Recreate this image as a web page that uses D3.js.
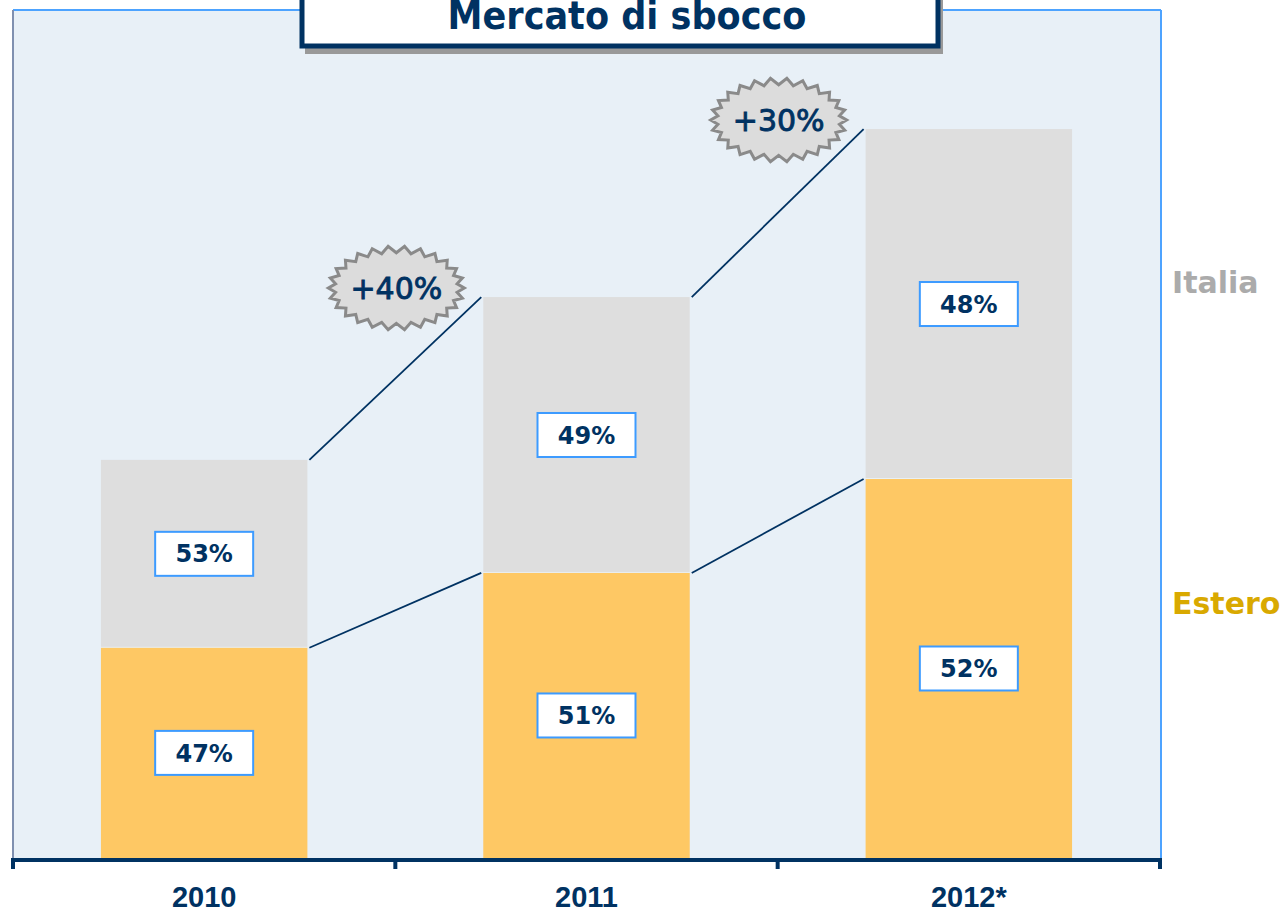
<!DOCTYPE html>
<meta charset="utf-8">
<style>
    body {
        margin: 0;
        background: #fff;
    }

    text {
        font-family: "DejaVu Sans", sans-serif;
    }
</style>

<body>
    <script src="https://d3js.org/d3.v7.min.js"></script>
    <script>

        // dati (2010 = 100)
        var years = ["2010", "2011", "2012*"];
        var estero = [52.8, 71.6, 95.2];
        var italia = [47.2, 69.3, 87.9];
        var esteroLabels = ["47%", "51%", "52%"];
        var italiaLabels = ["53%", "49%", "48%"];
        var growth = ["+40%", "+30%"];

        var width = 1286, height = 913;
        var plot = { left: 13, right: 1160, top: 10, bottom: 858 };

        var navy = "#003262";

        var svg = d3.select("body").append("svg")
            .attr("width", width)
            .attr("height", height);

        var x = d3.scaleBand()
            .domain(years)
            .range([plot.left, plot.right])
            .paddingInner(0.46)
            .paddingOuter(0.23);

        var y = d3.scaleLinear()
            .domain([0, 213])
            .range([plot.bottom, plot.top]);

        var data = years.map(function (d, i) {
            return { year: d, estero: estero[i], italia: italia[i], total: estero[i] + italia[i] };
        });

        // sfondo area grafico
        svg.append("rect")
            .attr("x", plot.left)
            .attr("y", plot.top)
            .attr("width", plot.right - plot.left)
            .attr("height", plot.bottom - plot.top)
            .style("fill", "#e8f0f7");

        svg.append("line")
            .attr("x1", plot.left).attr("x2", plot.right + 1)
            .attr("y1", plot.top).attr("y2", plot.top)
            .style("stroke", "#4da3ff").style("stroke-width", 2);
        svg.append("line")
            .attr("x1", plot.right + 1).attr("x2", plot.right + 1)
            .attr("y1", plot.top).attr("y2", plot.bottom)
            .style("stroke", "#4da3ff").style("stroke-width", 2);
        svg.append("line")
            .attr("x1", plot.left).attr("x2", plot.left)
            .attr("y1", plot.top).attr("y2", plot.bottom)
            .style("stroke", "#8090b0").style("stroke-width", 2);

        // barre
        var bars = svg.selectAll(".bar")
            .data(data)
            .enter().append("g")
            .attr("class", "bar");

        bars.append("rect")
            .attr("x", d => x(d.year))
            .attr("width", x.bandwidth())
            .attr("y", d => y(d.estero))
            .attr("height", d => y(0) - y(d.estero))
            .style("fill", "#fec864");

        bars.append("rect")
            .attr("x", d => x(d.year))
            .attr("width", x.bandwidth())
            .attr("y", d => y(d.total))
            .attr("height", d => y(d.estero) - y(d.total) - 1)
            .style("fill", "#dedede");

        // linee di collegamento
        var pairs = d3.pairs(data);
        ["total", "estero"].forEach(function (key) {
            svg.selectAll(".conn-" + key)
                .data(pairs)
                .enter().append("line")
                .attr("x1", p => x(p[0].year) + x.bandwidth() + 2)
                .attr("y1", p => y(p[0][key]))
                .attr("x2", p => x(p[1].year) - 2)
                .attr("y2", p => y(p[1][key]))
                .style("stroke", navy)
                .style("stroke-width", 1.8);
        });

        // etichette percentuali
        function labelBox(sel, cy, text) {
            sel.append("rect")
                .attr("x", d => x(d.year) + x.bandwidth() / 2 - 49)
                .attr("y", d => cy(d) - 22)
                .attr("width", 98)
                .attr("height", 44)
                .style("fill", "#fff")
                .style("stroke", "#3d9bff")
                .style("stroke-width", 2);
            sel.append("text")
                .attr("x", d => x(d.year) + x.bandwidth() / 2)
                .attr("y", d => cy(d))
                .attr("dy", "0.36em")
                .attr("text-anchor", "middle")
                .style("font-size", "24px")
                .style("font-weight", "bold")
                .style("fill", navy)
                .text(text);
        }
        labelBox(bars, d => (y(d.total) + y(d.estero)) / 2, (d, i) => italiaLabels[i]);
        labelBox(bars, d => (y(d.estero) + y(0)) / 2, (d, i) => esteroLabels[i]);

        // esplosioni crescita
        function burst(cx, cy, rx, ry, n) {
            var pts = [];
            for (var i = 0; i < n * 2; i++) {
                var a = Math.PI * i / n;
                var kx = i % 2 ? 0.9 : 1;
                var ky = i % 2 ? 0.84 : 1;
                pts.push([cx + rx * kx * Math.cos(a), cy + ry * ky * Math.sin(a)]);
            }
            return pts;
        }

        var bursts = svg.selectAll(".burst")
            .data(pairs)
            .enter().append("g")
            .attr("class", "burst");

        bursts.append("path")
            .attr("d", function (p) {
                var cx = (x(p[0].year) + x.bandwidth() + x(p[1].year)) / 2 + 1;
                var cy = y(p[1].total) - 9;
                return d3.line()(burst(cx, cy, 68, 42, 26)) + "Z";
            })
            .style("fill", "#dcdcdc")
            .style("stroke", "#8a8a8a")
            .style("stroke-width", 3)
            .style("stroke-linejoin", "miter");

        bursts.append("text")
            .attr("x", p => (x(p[0].year) + x.bandwidth() + x(p[1].year)) / 2 + 1)
            .attr("y", p => y(p[1].total) - 9)
            .attr("dy", "0.36em")
            .attr("text-anchor", "middle")
            .style("font-size", "30px")
            .style("fill", navy)
            .style("stroke", navy)
            .style("stroke-width", 0.9)
            .text((p, i) => growth[i]);

        // asse x
        svg.append("line")
            .attr("x1", plot.left - 1).attr("x2", plot.right + 2)
            .attr("y1", plot.bottom + 2).attr("y2", plot.bottom + 2)
            .style("stroke", navy).style("stroke-width", 4);

        svg.selectAll(".tick-b")
            .data(d3.range(years.length + 1))
            .enter().append("line")
            .attr("x1", i => plot.left + i * x.step())
            .attr("x2", i => plot.left + i * x.step())
            .attr("y1", plot.bottom)
            .attr("y2", plot.bottom + 11)
            .style("stroke", navy).style("stroke-width", 4);

        svg.append("g")
            .attr("transform", "translate(0," + (plot.bottom + 2) + ")")
            .call(d3.axisBottom(x).tickSize(0).tickPadding(0))
            .call(g => g.select(".domain").remove())
            .selectAll("text")
            .attr("y", 47)
            .attr("dy", 0)
            .style("font-family", "'Liberation Sans', Arial, sans-serif")
            .style("font-size", "29px")
            .style("font-weight", "bold")
            .style("fill", navy);

        // legenda
        svg.append("text")
            .attr("x", 1172).attr("y", 293)
            .style("font-size", "30px").style("font-weight", "bold")
            .style("fill", "#ababab")
            .text("Italia");
        svg.append("text")
            .attr("x", 1172).attr("y", 614)
            .style("font-size", "30px").style("font-weight", "bold")
            .style("fill", "#d9a900")
            .text("Estero");

        // titolo
        svg.append("rect")
            .attr("x", 305).attr("y", -10)
            .attr("width", 638).attr("height", 64)
            .style("fill", "#999");
        svg.append("rect")
            .attr("x", 302).attr("y", -10)
            .attr("width", 636).attr("height", 56)
            .style("fill", "#fff")
            .style("stroke", navy)
            .style("stroke-width", 5);
        svg.append("text")
            .attr("x", 627).attr("y", 29)
            .attr("text-anchor", "middle")
            .style("font-family", "'DejaVu Sans Condensed', sans-serif")
            .style("font-size", "39px")
            .style("font-weight", "bold")
            .style("fill", navy)
            .text("Mercato di sbocco");

    </script>
</body>
